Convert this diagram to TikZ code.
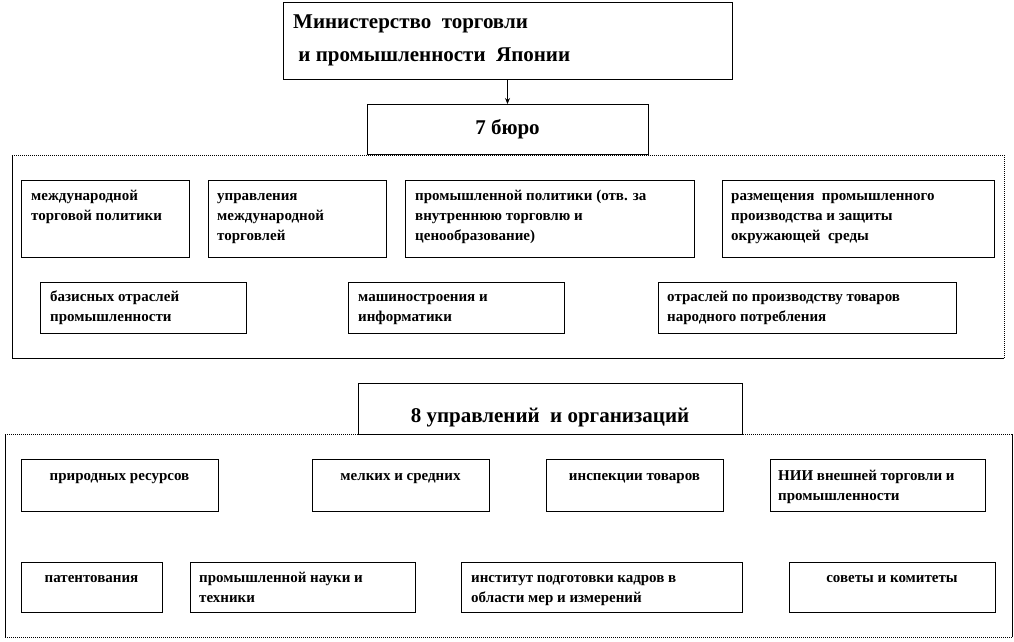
\documentclass[tikz,border=0pt]{standalone}
\usepackage{fontspec}
\setmainfont{Liberation Serif}
\usetikzlibrary{arrows.meta}
\newcommand\st{\rule{0pt}{14pt}}
\newcommand\bigst{\rule{0pt}{19pt}}
\newcommand\bxx[5]{\node[boxst, minimum width={(#4-#2)*1pt}, minimum height={(#5-#3)*1pt}] (#1) at ({(#2+#4)/2},{(#3+#5)/2}) {};}
\tikzset{
  boxst/.style={draw=black, line width=1pt, fill=white, inner sep=0pt, outer sep=0pt},
  txt/.style={font=\fontsize{15}{20}\selectfont\bfseries, align=left, inner sep=0pt, anchor=north west},
  ctxt/.style={font=\fontsize{15}{20}\selectfont\bfseries, align=center, inner sep=0pt, anchor=north},
  bigtxt/.style={font=\fontsize{21}{33}\selectfont\bfseries, inner sep=0pt, anchor=base},
  solidedge/.style={draw=black, line width=1pt},
  dotedge/.style={draw=black, line width=1pt, dash pattern=on 1pt off 1pt},
}
\begin{document}
\begin{tikzpicture}[x=1pt,y=-1pt]
\useasboundingbox (0,0) rectangle (1014,641);
% frame 1
\coordinate (f1a) at (12,155);
\coordinate (f1b) at (1004,155);
\coordinate (f1c) at (1004,358);
\coordinate (f1d) at (12,358);
\draw[dotedge] (f1a) -- (f1b) -- (f1c);
\draw[solidedge] (f1a) -- (f1d) -- (f1c);
% frame 2
\coordinate (f2a) at (5,434);
\coordinate (f2b) at (1012,434);
\coordinate (f2c) at (1012,637);
\coordinate (f2d) at (5,637);
\draw[dotedge] (f2a) -- (f2b);
\draw[dotedge] (f2d) -- (f2c);
\draw[solidedge] (f2a) -- (f2d);
\draw[solidedge] (f2b) -- (f2c);
% top
\bxx{top}{283}{2}{732}{79}
\node[font=\fontsize{21}{33}\selectfont\bfseries, align=left, inner sep=0pt, anchor=north west] (toptext) at (293,9) {\bigst Министерство\ \ торговли\\\ и промышленности\ \ Японии};
\bxx{bur}{367}{104}{648}{154}
\node[bigtxt] (burtext) at (507.5,134) {7 бюро};
\draw[line width=1pt, -{Stealth[length=6pt,width=5pt]}] (top.south) -- (bur.north);
% frame 1 boxes
\bxx{a}{21}{180}{189}{257}
\node[txt] (at) at (31,186) {\st международной\\торговой политики};
\bxx{b}{208}{180}{386}{257}
\node[txt] (bt) at (217,186) {\st управления\\международной\\торговлей};
\bxx{c}{405}{180}{694}{257}
\node[txt] (ct) at (415,186) {\st промышленной политики (отв. за\\внутреннюю торговлю и\\ценообразование)};
\bxx{d}{722}{180}{994}{257}
\node[txt] (dt) at (731,186) {\st размещения\ \ промышленного\\производства и защиты\\окружающей\ \ среды};
\bxx{e}{40}{282}{246}{333}
\node[txt] (et) at (50,287) {\st базисных отраслей\\промышленности};
\bxx{f}{348}{282}{564}{333}
\node[txt] (ft) at (358,287) {\st машиностроения и\\информатики};
\bxx{g}{658}{282}{956}{333}
\node[txt] (gt) at (667,287) {\st отраслей по производству товаров\\народного потребления};
% 8
\bxx{org}{358}{383}{742}{434}
\node[bigtxt] (orgtext) at (550,422) {8 управлений\ \ и организаций};
% frame 2 boxes
\bxx{h}{21}{459}{218}{511}
\node[ctxt] (ht) at (119.5,466) {\st природных ресурсов};
\bxx{i}{312}{459}{489}{511}
\node[ctxt] (it) at (400.5,466) {\st мелких и средних};
\bxx{j}{546}{459}{723}{511}
\node[ctxt] (jt) at (634.5,466) {\st инспекции товаров};
\bxx{k}{770}{459}{985}{511}
\node[txt] (kt) at (778,466) {\st НИИ внешней торговли и\\промышленности};
\bxx{l}{21}{562}{162}{612}
\node[ctxt] (lt) at (91.5,568) {\st патентования};
\bxx{m}{190}{562}{415}{612}
\node[txt] (mt) at (199,568) {\st промышленной науки и\\техники};
\bxx{n}{461}{562}{742}{612}
\node[txt] (nt) at (471,568) {\st институт подготовки кадров в\\области мер и измерений};
\bxx{o}{789}{562}{995}{612}
\node[ctxt] (ot) at (892,568) {\st советы и комитеты};
\end{tikzpicture}
\end{document}
